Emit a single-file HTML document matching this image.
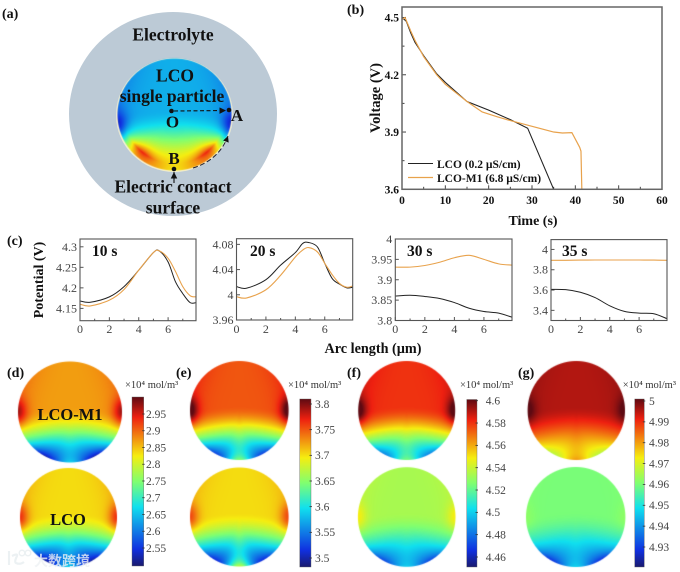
<!DOCTYPE html>
<html lang="en">
<head>
<meta charset="utf-8">
<title>LCO single particle figure</title>
<style>
html,body{margin:0;padding:0;background:#fff;}
#fig{position:relative;width:680px;height:572px;overflow:hidden;background:#fff;filter:blur(0.3px);}
#fig canvas{position:absolute;}
#fig svg{position:absolute;left:0;top:0;}
#outer{position:absolute;left:69px;top:12px;width:208px;height:204px;border-radius:50%;background:#bccad6;}
#rim{position:absolute;left:116px;top:58px;width:117px;height:114px;border-radius:50%;background:#f3efd2;}
text{font-family:"Liberation Serif","Noto Serif CJK SC",serif;}
.b{font-weight:bold;fill:#111;}
.t{fill:#444;font-size:12px;}
</style>
</head>
<body>
<div id="fig">
<div id="outer"></div>
<div id="rim"></div>
<svg id="s" width="680" height="572" viewBox="0 0 680 572" xmlns="http://www.w3.org/2000/svg">
<defs>
<linearGradient id="jet" x1="0" y1="1" x2="0" y2="0">
<stop offset="0" stop-color="#1a1a6e"/><stop offset=".1" stop-color="#1030e0"/><stop offset=".35" stop-color="#10e0ee"/>
<stop offset=".5" stop-color="#80ff70"/><stop offset=".65" stop-color="#f5ee10"/><stop offset=".88" stop-color="#ee2010"/><stop offset="1" stop-color="#5e0a12"/>
</linearGradient>
<marker id="ah" markerWidth="7" markerHeight="7" refX="6" refY="3" orient="auto"><path d="M0 0L6 3L0 6z" fill="#111"/></marker>
</defs>
<g>
<text class="b" font-size="14" x="2" y="18">(a)</text>
<text class="b" font-size="14" x="347" y="14">(b)</text>
<text class="b" font-size="14" x="7" y="245">(c)</text>
<text class="b" font-size="14" x="7" y="377">(d)</text>
<text class="b" font-size="14" x="176" y="377">(e)</text>
<text class="b" font-size="14" x="347" y="377">(f)</text>
<text class="b" font-size="14" x="518" y="377">(g)</text>
</g>
<g>
<text class="b" font-size="17.500" x="173" y="40.700" text-anchor="middle">Electrolyte</text>
<text class="b" font-size="17.500" x="175" y="81.500" text-anchor="middle">LCO</text>
<text class="b" font-size="17.500" x="172" y="102" text-anchor="middle">single particle</text>
<text class="b" font-size="17" x="172.500" y="127.500" text-anchor="middle">O</text>
<text class="b" font-size="17" x="237" y="121" text-anchor="middle">A</text>
<text class="b" font-size="17" x="174" y="164" text-anchor="middle">B</text>
<text class="b" font-size="17.500" x="173" y="192.500" text-anchor="middle">Electric contact</text>
<text class="b" font-size="17.500" x="173" y="213.500" text-anchor="middle">surface</text>
<circle cx="171.500" cy="111" r="2.300" fill="#111"/>
<circle cx="229" cy="110" r="2.300" fill="#111"/>
<circle cx="174" cy="169" r="2.300" fill="#111"/>
<line x1="174" y1="111" x2="226" y2="110.500" stroke="#111" stroke-width="1.100" stroke-dasharray="4 2.500" marker-end="url(#ah)"/>
<line x1="174" y1="183" x2="174" y2="172" stroke="#111" stroke-width="1.100" marker-end="url(#ah)"/>
<path d="M193 168Q219 160 228 136" fill="none" stroke="#223" stroke-width="1" stroke-dasharray="5 2.500" marker-end="url(#ah)"/>
</g>
<g id="plots"></g>
<g id="bars"></g>
<g>
<text class="b" font-size="16.500" x="70" y="420" text-anchor="middle">LCO-M1</text>
<text class="b" font-size="16.500" x="68" y="525" text-anchor="middle">LCO</text>
</g>
<g opacity=".8">
<path d="M9 551v14M12 556q6-3 5 0q-3 6-1 7q4 2 8-1" fill="none" stroke="#e8eef0" stroke-width="2.200"/>
<circle cx="22" cy="553" r="2.800" fill="none" stroke="#e8eef0" stroke-width="1.500"/>
<circle cx="28" cy="553" r="2.800" fill="none" stroke="#e8eef0" stroke-width="1.500"/>
<text x="34" y="566" font-size="14" font-weight="700" fill="#eef2f4" style='font-family:"Liberation Sans","Noto Sans CJK SC",sans-serif'>大数跨境</text>
</g>
</svg>
</div>
<script>
// ---------- chart data ----------
var voltageTimeLCO = [0,1,2,3,5,8,10,15,20,25,29,35];
var voltageValuesLCO = [4.5,4.48,4.42,4.37,4.3,4.205,4.16,4.06,4.015,3.965,3.92,3.6];
var voltageTimeM1 = [0,0.7,2,3,5,8,10,15,18.5,22,25,30,35,37,39.2,41,41.3,41.5];
var voltageValuesM1 = [4.49,4.5,4.43,4.38,4.295,4.2,4.15,4.06,4.005,3.98,3.96,3.93,3.9,3.895,3.897,3.82,3.8,3.6];
var voltageXTicks = [0,10,20,30,40,50,60];
var voltageYTicks = [3.6,3.9,4.2,4.5];

var arc10x = [0,0.7,2,3,4,5,5.4,6,6.5,7,7.5,7.9];
var arc10LCO = [4.168,4.165,4.178,4.203,4.243,4.286,4.29,4.263,4.215,4.186,4.164,4.164];
var arc10M1 = [4.16,4.156,4.17,4.196,4.243,4.286,4.29,4.272,4.24,4.203,4.181,4.178];
var arc10Ticks = ["4.15","4.2","4.25","4.3"];

var arc20x = [0,0.7,2,3,4,4.5,4.9,5.5,6,6.5,7,7.5,7.9];
var arc20LCO = [4.013,4.0105,4.024,4.047,4.067,4.0815,4.083,4.076,4.05,4.026,4.017,4.011,4.012];
var arc20M1 = [3.997,3.995,4.008,4.031,4.06,4.071,4.075,4.068,4.05,4.032,4.018,4.012,4.014];
var arc20Ticks = ["3.96","4","4.04","4.08"];

var arc30x = [0,1,2,3,4,5,6,7,7.9];
var arc30LCO = [3.86,3.862,3.859,3.854,3.844,3.83,3.822,3.818,3.808];
var arc30M1 = [3.931,3.931,3.935,3.943,3.954,3.96,3.95,3.939,3.936];
var arc30Ticks = ["3.8","3.85","3.9","3.95","4"];

var arc35x = [0,1,2,3,4,5,6,7,7.9];
var arc35LCO = [3.607,3.604,3.578,3.526,3.445,3.39,3.373,3.367,3.318];
var arc35M1 = [3.893,3.893,3.895,3.896,3.896,3.896,3.896,3.895,3.893];
var arc35Ticks = ["3.4","3.6","3.8","4"];

var arcXTicks = [0,2,4,6];

var barTicksD = ["2.55","2.6","2.65","2.7","2.75","2.8","2.85","2.9","2.95"];
var barTicksE = ["3.5","3.55","3.6","3.65","3.7","3.75","3.8"];
var barTicksF = ["4.46","4.48","4.5","4.52","4.54","4.56","4.58","4.6"];
var barTicksG = ["4.93","4.94","4.95","4.96","4.97","4.98","4.99","5"];

// field levels: top, side, drop, blob, centre
var fieldParticle = [0.28,-0.2,-0.44,-0.28,-0.06];
var fieldD1 = [0.74,0.16,0.55,0.18,0.15];
var fieldD2 = [0.67,0.15,0.55,0.12,0.22];
var fieldE1 = [0.82,0.17,0.6,0.14,0.3];
var fieldE2 = [0.67,0.13,0.5,0.12,0.42];
var fieldF1 = [0.86,0.14,0.56,0.12,0.2];
var fieldF2 = [0.55,0.08,0.3,0.14,0.08];
var fieldG1 = [0.93,0.07,0.3,0.08,0.12];
var fieldG2 = [0.49,0.02,0.25,0.16,0.1];

// ---------- helpers ----------
var NS = 'http://www.w3.org/2000/svg';
function mk(parent, tag, attrs, txt){
  var e = document.createElementNS(NS, tag);
  for (var k in attrs) e.setAttribute(k, attrs[k]);
  if (txt !== undefined) e.textContent = txt;
  parent.appendChild(e);
  return e;
}
function linear(d0,d1,r0,r1){ return function(v){ return r0+(v-d0)*(r1-r0)/(d1-d0); }; }
function pathOf(xs,ys,sx,sy,smooth){
  var p = xs.map(function(x,i){ return [sx(x),sy(ys[i])]; });
  var d = 'M'+p[0][0].toFixed(2)+' '+p[0][1].toFixed(2);
  for (var i=0;i<p.length-1;i++){
    if(!smooth){ d+='L'+p[i+1][0].toFixed(2)+' '+p[i+1][1].toFixed(2); continue; }
    var a=p[Math.max(i-1,0)],b=p[i],c=p[i+1],e=p[Math.min(i+2,p.length-1)];
    d+='C'+(b[0]+(c[0]-a[0])/6).toFixed(2)+' '+(b[1]+(c[1]-a[1])/6).toFixed(2)+' '+
        (c[0]-(e[0]-b[0])/6).toFixed(2)+' '+(c[1]-(e[1]-b[1])/6).toFixed(2)+' '+
        c[0].toFixed(2)+' '+c[1].toFixed(2);
  }
  return d;
}
var plots = document.getElementById('plots');

// ---------- panel (b) ----------
(function(){
  var g = mk(plots,'g',{});
  
  
  var L=402,R=662,T=7,B=189.3;
  var sx=linear(0,60,L,R), sy=linear(3.6,4.5,B,17.5);
  voltageXTicks.forEach(function(v,i){
    var x=sx(v);
    var tk=mk(g,'line',{x1:x,x2:x,y1:B,y2:B-4,stroke:'#444','stroke-width':1});
    
    
    var lb=mk(g,'text',{x:x,y:204,'text-anchor':'middle','font-size':11.5,'class':'b'},String(v));
    
    
    if(i<voltageXTicks.length-1){
      var mn=mk(g,'line',{x1:sx(v+5),x2:sx(v+5),y1:B,y2:B-2.500,stroke:'#444','stroke-width':1});
      
      
    }
  });
  voltageYTicks.forEach(function(v,i){
    var y=sy(v);
    var tk=mk(g,'line',{x1:L,x2:L+4,y1:y,y2:y,stroke:'#444','stroke-width':1});
    
    
    var lb=mk(g,'text',{x:399,y:y+4,'text-anchor':'end','font-size':11.5,'class':'b'},v.toFixed(1));
    
    
    if(i<voltageYTicks.length-1){
      var mn=mk(g,'line',{x1:L,x2:L+2.500,y1:sy(v+0.15),y2:sy(v+0.15),stroke:'#444','stroke-width':1});
      
      
    }
  });
  var l1=mk(g,'path',{d:pathOf(voltageTimeLCO,voltageValuesLCO,sx,sy,false),fill:'none',stroke:'#222','stroke-width':1.100});
  
  
  var l2=mk(g,'path',{d:pathOf(voltageTimeM1,voltageValuesM1,sx,sy,false),fill:'none',stroke:'#e8a24c','stroke-width':1.200});
  
  
  var fr=mk(g,'rect',{x:L,y:T,width:R-L,height:B-T,fill:'none',stroke:'#666','stroke-width':1.500});
  
  
  var yt=mk(g,'text',{x:0,y:0,transform:'translate(380,98) rotate(-90)','text-anchor':'middle','font-size':14.500,'class':'b'},'Voltage (V)');
  
  
  var xt=mk(g,'text',{x:533,y:225,'text-anchor':'middle','font-size':14,'class':'b'},'Time (s)');
  
  
  var k1=mk(g,'line',{x1:408,x2:433,y1:163.500,y2:163.500,stroke:'#222','stroke-width':1.100});
  
  
  var k2=mk(g,'line',{x1:408,x2:433,y1:177.500,y2:177.500,stroke:'#e8a24c','stroke-width':1.200});
  
  
  var e1=mk(g,'text',{x:437,y:168,'font-size':11.500,'class':'b'},'LCO (0.2 µS/cm)');
  
  
  var e2=mk(g,'text',{x:437,y:182,'font-size':11.500,'class':'b'},'LCO-M1 (6.8 µS/cm)');
  
  
})();

// ---------- panel (c) ----------
function arcPlot(name,title,titleX,L,R,T,B,yMin,yMax,xs,lco,m1,ticks){
  var g=mk(plots,'g',{});
  
  
  var sx=linear(0,7.9,L,R), sy=linear(yMin,yMax,B,T);
  arcXTicks.forEach(function(v){
    var tk=mk(g,'line',{x1:sx(v),x2:sx(v),y1:B,y2:B-3.500,stroke:'#555','stroke-width':1});
    
    
    var mn=mk(g,'line',{x1:sx(v+1),x2:sx(v+1),y1:B,y2:B-2,stroke:'#555','stroke-width':1});
    
    
    var lb=mk(g,'text',{x:sx(v),y:333,'text-anchor':'middle','class':'t'},String(v));
    
    
  });
  ticks.forEach(function(s){
    var y=sy(parseFloat(s));
    var tk=mk(g,'line',{x1:L,x2:L+3.500,y1:y,y2:y,stroke:'#555','stroke-width':1});
    
    
    var lb=mk(g,'text',{x:L-3,y:y+4,'text-anchor':'end','class':'t'},s);
    
    
  });
  var l1=mk(g,'path',{d:pathOf(xs,lco,sx,sy,true),fill:'none',stroke:'#222','stroke-width':1});
  
  
  var l2=mk(g,'path',{d:pathOf(xs,m1,sx,sy,true),fill:'none',stroke:'#e8a24c','stroke-width':1.100});
  
  
  var fr=mk(g,'rect',{x:L,y:T,width:R-L,height:B-T,fill:'none',stroke:'#555','stroke-width':1.100});
  
  
  var tt=mk(g,'text',{x:titleX,y:256,'font-size':15.500,'class':'b'},title);
  
  
}
arcPlot('potential-chart-10s','10 s',92,80,196,239,320.7,4.12,4.319,arc10x,arc10LCO,arc10M1,arc10Ticks);
arcPlot('potential-chart-20s','20 s',250,236.5,352.7,238.7,320,3.96,4.089,arc20x,arc20LCO,arc20M1,arc20Ticks);
arcPlot('potential-chart-30s','30 s',407,395.3,512,239,320.5,3.8,4,arc30x,arc30LCO,arc30M1,arc30Ticks);
arcPlot('potential-chart-35s','35 s',562,551,667,239.6,320.5,3.3,4.097,arc35x,arc35LCO,arc35M1,arc35Ticks);
var pt=mk(plots,'text',{transform:'translate(43,280) rotate(-90)','text-anchor':'middle','font-size':14,'class':'b'},'Potential (V)');


var at=mk(plots,'text',{x:373,y:353,'text-anchor':'middle','font-size':14.200,'class':'b'},'Arc length (µm)');



// ---------- colorbars ----------
function colorbar(name,L,R,T,B,labels,firstY,lastY,labelX,titleX){
  var root=document.getElementById('bars');
  var g=mk(root,'g',{});
  
  
  var r=mk(g,'rect',{x:L,y:T,width:R-L,height:B-T,fill:'url(#jet)',stroke:'#666','stroke-width':0.400});
  
  
  var sy=linear(0,labels.length-1,firstY,lastY);
  labels.forEach(function(s,i){
    var y=sy(i);
    var tk=mk(g,'line',{x1:R-1.500,x2:R+1,y1:y,y2:y,stroke:'#333','stroke-width':0.800});
    
    
    var lb=mk(g,'text',{x:labelX,y:y+3.800,'font-size':11.500,fill:'#444'},s);
    
    
  });
  var tl=mk(g,'text',{x:titleX,y:388,'font-size':10.500,fill:'#333'},'×10⁴ mol/m³');
  
  
}
colorbar('colorbar-d',132,143.7,397,566,barTicksD,548,414,146,125);
colorbar('colorbar-e',299.7,311,399,567,barTicksE,558,404,315,288);
colorbar('colorbar-f',466.7,477,399.5,567,barTicksF,557,400.7,485.7,460);
colorbar('colorbar-g',634.7,644.3,399,567,barTicksG,547,401,649,622.7);

// ---------- concentration discs ----------
function jet(v){
  v=Math.max(0,Math.min(1,v));
  var st=[[0,26,26,110],[0.1,16,48,224],[0.35,16,224,238],[0.5,128,255,112],[0.65,245,238,16],[0.88,238,32,16],[1,94,10,18]];
  for(var i=0;i<st.length-1;i++){
    if(v<=st[i+1][0]){
      var a=st[i],b=st[i+1],t=(v-a[0])/(b[0]-a[0]);
      return [a[1]+(b[1]-a[1])*t,a[2]+(b[2]-a[2])*t,a[3]+(b[3]-a[3])*t];
    }
  }
  return [94,10,18];
}
function sstep(a,b,x){ var t=Math.max(0,Math.min(1,(x-a)/(b-a))); return t*t*(3-2*t); }
function disc(name,cx,cy,rx,ry,f,blobAngle,blobQ,sideY){
  var x0=Math.floor(cx-rx)-1,y0=Math.floor(cy-ry)-1,w=Math.ceil(2*rx)+3,h=Math.ceil(2*ry)+3;
  var c=document.createElement('canvas');
  c.width=w;c.height=h;
  c.style.left=x0+'px';c.style.top=y0+'px';
  
  
  var ctx=c.getContext('2d'),im=ctx.createImageData(w,h),d=im.data;
  for(var j=0;j<h;j++)for(var i=0;i<w;i++){
    var x=(x0+i+0.5-cx)/rx,y=(y0+j+0.5-cy)/ry,q=Math.sqrt(x*x+y*y);
    var alpha=Math.max(0,Math.min(1,(1-q)*rx+0.5));
    if(alpha<=0)continue;
    var ax=Math.abs(x),ye=y-0.15*x*x,th=Math.atan2(ax,y),dep=Math.max(0,1-q);
    var v=f[0]
      +f[1]*Math.exp(-((ax-1)*(ax-1)/0.03+(y-sideY)*(y-sideY)/0.07))
      +f[1]*0.35*ax*ax*q*q*sstep(0.5,-0.2,y)
      -f[2]*sstep(-0.1,1,ye)
      -f[3]*Math.exp(-((th-blobAngle)*(th-blobAngle)/0.1))*Math.exp(-Math.abs(q-blobQ)/0.14)
      +f[4]*Math.exp(-(th*th/0.06))*Math.exp(-dep/0.22);
    var col=jet(v),k=(i+j*w)*4;
    d[k]=col[0];d[k+1]=col[1];d[k+2]=col[2];d[k+3]=alpha*255;
  }
  ctx.putImageData(im,0,0);
  var fig=document.getElementById('fig');
  fig.insertBefore(c,document.getElementById('s'));
}
disc('particle-heatmap',174.5,114.5,57,56,fieldParticle,0.75,0.88,0.22);
disc('disc-d-lco-m1',70,412,52,50.5,fieldD1,0.55,1,0);
disc('disc-d-lco',68.5,517.5,48.5,49.5,fieldD2,0.55,1,0);
disc('disc-e-lco-m1',239.3,410.5,49.3,49.5,fieldE1,0.55,1,0);
disc('disc-e-lco',239.3,517,49.3,49.5,fieldE2,0.55,1,0);
disc('disc-f-lco-m1',406.7,410.5,48.5,49.5,fieldF1,0.55,1,0);
disc('disc-f-lco',406.7,517,48.8,49.8,fieldF2,0.55,1,0);
disc('disc-g-lco-m1',576.3,410.5,48.7,49.5,fieldG1,0.55,1,0);
disc('disc-g-lco',575.7,517,49.7,50,fieldG2,0.55,1,0);
</script>
</body>
</html>
